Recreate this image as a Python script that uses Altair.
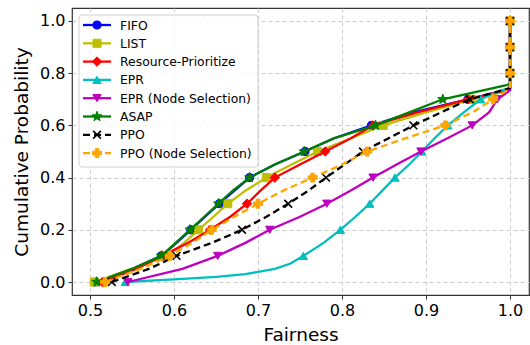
import math
import altair as alt
import pandas as pd

# ---------------- data ----------------
names = ["FIFO", "LIST", "Resource-Prioritize", "EPR", "EPR (Node Selection)",
         "ASAP", "PPO", "PPO (Node Selection)"]

std_y = [0.0, 0.05, 0.1, 0.15, 0.2, 0.25, 0.3, 0.35, 0.4, 0.45, 0.5, 0.55, 0.6, 0.65, 0.7]
tail_y = [0.8, 0.9, 1.0]

fifo_x = [0.507, 0.55, 0.585, 0.603, 0.62, 0.637, 0.654, 0.672, 0.69, 0.72, 0.756, 0.79, 0.835, 0.885, 0.95, 0.995]
fifo_y = std_y + [0.735]

list_x = [0.505, 0.55, 0.592, 0.612, 0.629, 0.647, 0.664, 0.685, 0.71, 0.74, 0.771, 0.81, 0.849, 0.90, 0.955, 0.995]
list_y = std_y + [0.73]

rp_x = [0.515, 0.555, 0.586, 0.617, 0.643, 0.667, 0.687, 0.703, 0.72, 0.75, 0.78, 0.81, 0.837, 0.89, 0.95, 0.995]
rp_y = std_y + [0.735]

epr_x = [0.542, 0.60, 0.65, 0.685, 0.72, 0.738, 0.754, 0.778, 0.798, 0.816, 0.833, 0.848, 0.863, 0.88,
         0.895, 0.91, 0.926, 0.945, 0.965, 0.99]
epr_y = [0.0, 0.01, 0.02, 0.03, 0.05, 0.07, 0.1, 0.15, 0.2, 0.25, 0.3, 0.35, 0.4, 0.45,
         0.5, 0.55, 0.6, 0.65, 0.7, 0.735]

eprns_x = [0.545, 0.61, 0.652, 0.685, 0.714, 0.75, 0.782, 0.81, 0.837, 0.865, 0.894, 0.925, 0.955, 0.975, 0.985, 0.998]
eprns_y = std_y + [0.73]

asap_x = [0.508, 0.55, 0.585, 0.602, 0.619, 0.636, 0.653, 0.67, 0.69, 0.72, 0.755, 0.79, 0.84, 0.88, 0.92, 0.997]
asap_y = std_y + [0.755]

ppo_x = [0.526, 0.57, 0.603, 0.645, 0.681, 0.71, 0.736, 0.76, 0.781, 0.803, 0.825, 0.855, 0.885, 0.918, 0.952, 0.997]
ppo_y = std_y + [0.74]

pons_x = [0.518, 0.56, 0.595, 0.622, 0.645, 0.672, 0.70, 0.73, 0.765, 0.80, 0.83, 0.875, 0.923, 0.955, 0.98, 0.997]
pons_y = std_y + [0.735]

all_x = [fifo_x, list_x, rp_x, epr_x, eprns_x, asap_x, ppo_x, pons_x]
all_y = [fifo_y, list_y, rp_y, epr_y, eprns_y, asap_y, ppo_y, pons_y]

x_ticks = [0.5, 0.6, 0.7, 0.8, 0.9, 1.0]
y_ticks = [0.0, 0.2, 0.4, 0.6, 0.8, 1.0]

# ---------------- styles ----------------
colors = ["#0000ff", "#bfbf00", "#ff0000", "#00bfbf", "#bf00bf", "#008000", "#000000", "#ffa500"]
star = "M" + "L".join(
    f"{(1.0 if k % 2 == 0 else 0.42) * math.cos(-math.pi / 2 + k * math.pi / 5):.3f},"
    f"{(1.0 if k % 2 == 0 else 0.42) * math.sin(-math.pi / 2 + k * math.pi / 5):.3f}"
    for k in range(10)) + "Z"
xmark = "M-1,-1L1,1M-1,1L1,-1"
shapes = ["circle", "square", "diamond", "triangle-up", "triangle-down", star, xmark, "cross"]
sizes = [65, 65, 90, 70, 70, 110, 60, 80]
filled = [True, True, True, True, True, True, False, True]
dashed = [False, False, False, False, False, False, True, True]
LW = 2.3

X = alt.X("x:Q", scale=alt.Scale(domain=[0.4786, 1.0226], nice=False, zero=False),
          axis=alt.Axis(values=x_ticks, format=".1f", title="Fairness", grid=True,
                        tickSize=4, labelPadding=3, titlePadding=7))
Y = alt.Y("y:Q", scale=alt.Scale(domain=[-0.0498, 1.0498], nice=False, zero=False),
          axis=alt.Axis(values=y_ticks, format=".1f", title="Cumulative Probability", grid=True,
                        tickSize=4, labelPadding=3, titlePadding=8))

layers = []
for k, name in enumerate(names):
    xs = all_x[k] + [1.0, 1.0, 1.0, 1.0]
    ys = all_y[k] + [all_y[k][-1] + 0.005] + tail_y
    df = pd.DataFrame({"x": xs, "y": ys})
    df["i"] = range(len(df))
    df["s"] = name
    mk = df[[abs(v * 10 - round(v * 10)) < 1e-6 for v in df["y"]]]
    lkw = dict(color=colors[k], strokeWidth=LW)
    if dashed[k]:
        lkw["strokeDash"] = [7, 4]
    layers.append(alt.Chart(df).mark_line(**lkw).encode(x=X, y=Y, order="i:Q"))
    pkw = dict(shape=shapes[k], filled=filled[k], size=sizes[k], opacity=1)
    if filled[k]:
        pkw["fill"] = colors[k]
        pkw["stroke"] = colors[k]
        pkw["strokeWidth"] = 1
    else:
        pkw["stroke"] = colors[k]
        pkw["strokeWidth"] = 1.6
    layers.append(alt.Chart(mk).mark_point(**pkw).encode(x=X, y=Y))

# ---------------- legend (matplotlib-style box) ----------------
one = alt.Data(values=[{"a": 1}])
layers.append(alt.Chart(one).mark_rect(fill="white", fillOpacity=0.8, stroke="#d0d0d0",
                                       strokeWidth=1, cornerRadius=3).encode(
    x=alt.value(7), x2=alt.value(186), y=alt.value(7), y2=alt.value(159)))
for k, name in enumerate(names):
    yy = 17 + 18.3 * k
    lkw = dict(color=colors[k], strokeWidth=LW)
    if dashed[k]:
        lkw["strokeDash"] = [7, 4]
    layers.append(alt.Chart(one).mark_rule(**lkw).encode(
        x=alt.value(11), x2=alt.value(39), y=alt.value(yy)))
    pkw = dict(shape=shapes[k], filled=filled[k], size=sizes[k], opacity=1)
    if filled[k]:
        pkw["fill"] = colors[k]
        pkw["stroke"] = colors[k]
        pkw["strokeWidth"] = 1
    else:
        pkw["stroke"] = colors[k]
        pkw["strokeWidth"] = 1.6
    layers.append(alt.Chart(one).mark_point(**pkw).encode(x=alt.value(25), y=alt.value(yy)))
    layers.append(alt.Chart(one).mark_text(text=name, align="left", baseline="middle",
                                           font="DejaVu Sans", fontSize=12.4, color="black").encode(
        x=alt.value(48), y=alt.value(yy + 0.5)))

chart = alt.layer(*layers).properties(
    width=457, height=287,
    autosize=alt.AutoSizeParams(type="none"),
    padding={"left": 72, "top": 8, "right": 1, "bottom": 50},
).configure_axis(
    labelFont="DejaVu Sans", titleFont="DejaVu Sans", labelFontSize=16, titleFontSize=18.5,
    titleFontWeight="normal", labelColor="black", titleColor="black",
    tickColor="#333333", domain=False, gridColor="#cccccc", gridDash=[4, 3], gridWidth=1,
).configure_view(stroke="#333333", strokeWidth=1.2)

chart.save("out.html", embed_options={"renderer": "svg", "actions": False})
